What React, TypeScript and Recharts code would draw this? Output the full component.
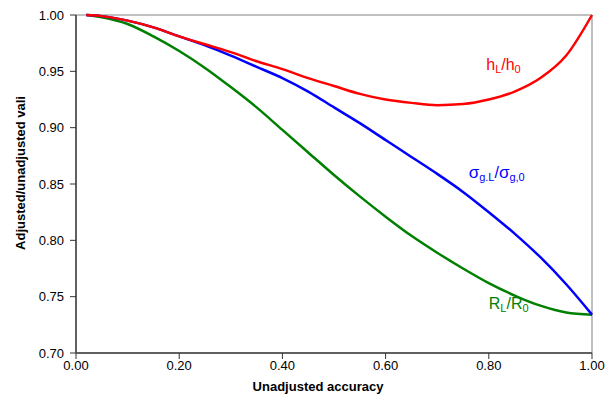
import React from 'react';
import {
  LineChart,
  Line,
  XAxis,
  YAxis,
  ReferenceLine,
  ReferenceDot,
} from 'recharts';

const xValues = [0.02, 0.05, 0.1, 0.15, 0.2, 0.25, 0.3, 0.35, 0.4, 0.45, 0.5, 0.55, 0.6, 0.65, 0.7, 0.75, 0.8, 0.85, 0.9, 0.95, 1.0];
const hRatio = [1.0, 0.999, 0.995, 0.989, 0.981, 0.974, 0.967, 0.959, 0.952, 0.944, 0.937, 0.93, 0.925, 0.922, 0.92, 0.921, 0.925, 0.932, 0.944, 0.964, 1.0];
const sigmaRatio = [1.0, 0.999, 0.995, 0.989, 0.981, 0.973, 0.964, 0.954, 0.944, 0.932, 0.918, 0.904, 0.889, 0.874, 0.859, 0.843, 0.825, 0.806, 0.785, 0.761, 0.734];
const rRatio = [1.0, 0.998, 0.992, 0.981, 0.968, 0.953, 0.936, 0.918, 0.898, 0.878, 0.858, 0.839, 0.821, 0.804, 0.789, 0.775, 0.762, 0.751, 0.742, 0.736, 0.734];

const xTicks = [0, 0.2, 0.4, 0.6, 0.8, 1.0];
const yTicks = [0.7, 0.75, 0.8, 0.85, 0.9, 0.95, 1.0];

const data = xValues.map((x, i) => ({
  x,
  h: hRatio[i],
  sigma: sigmaRatio[i],
  r: rRatio[i],
}));

const font = '"Liberation Sans", Arial, sans-serif';
const RED = '#ff0000';
const BLUE = '#0000ff';
const GREEN = '#008000';

function seriesLabel(main1: string, sub1: string, main2: string, sub2: string, color: string, greek: boolean) {
  return (props: any) => {
    const vb = props.viewBox || {};
    const x = vb.x ?? 0;
    const y = vb.y ?? 0;
    return (
      <text x={x} y={y} fill={color} fontFamily={font} fontSize={16}>
        <tspan fontSize={greek ? 17 : 16}>{main1}</tspan>
        <tspan fontSize={11} dy={3}>{sub1}</tspan>
        <tspan fontSize={16} dy={-3}>/</tspan>
        <tspan fontSize={greek ? 17 : 16}>{main2}</tspan>
        <tspan fontSize={11} dy={3}>{sub2}</tspan>
      </text>
    );
  };
}

export default function App() {
  return (
    <div style={{ position: 'absolute', left: 0, top: 0, background: '#fff' }}>
      <LineChart width={613} height={404} data={data} margin={{ top: 15, right: 21, bottom: 0, left: 0 }}>
        <XAxis
          dataKey="x"
          type="number"
          domain={[0, 1]}
          ticks={xTicks}
          tickFormatter={(v: number) => v.toFixed(2)}
          height={51}
          axisLine={{ stroke: '#606060', strokeWidth: 2 }}
          tickLine={{ stroke: '#333' }}
          tickSize={6}
          tickMargin={2}
          tick={{ fill: '#000', fontSize: 13, fontFamily: font }}
          label={() => (
            <text x={318} y={391} textAnchor="middle" fontFamily={font} fontSize={13} fontWeight="bold" fill="#000">
              Unadjusted accuracy
            </text>
          )}
        />
        <YAxis
          type="number"
          domain={[0.7, 1]}
          ticks={yTicks}
          tickFormatter={(v: number) => v.toFixed(2)}
          width={76}
          axisLine={{ stroke: '#606060', strokeWidth: 2 }}
          tickLine={{ stroke: '#333' }}
          tickSize={6}
          tickMargin={6}
          tick={{ fill: '#000', fontSize: 13, fontFamily: font }}
          label={() => (
            <text
              x={25}
              y={173}
              transform="rotate(-90 25 173)"
              textAnchor="middle"
              fontFamily={font}
              fontSize={13}
              fontWeight="bold"
              fill="#000"
            >
              Adjusted/unadjusted vali
            </text>
          )}
        />
        <ReferenceLine y={1} stroke="#c0c0c0" strokeWidth={2} />
        <ReferenceLine x={1} stroke="#c0c0c0" strokeWidth={2} />
        <Line type="monotone" dataKey="r" stroke={GREEN} strokeWidth={2.5} dot={false} isAnimationActive={false} />
        <Line type="monotone" dataKey="sigma" stroke={BLUE} strokeWidth={2.5} dot={false} isAnimationActive={false} />
        <Line type="monotone" dataKey="h" stroke={RED} strokeWidth={2.5} dot={false} isAnimationActive={false} />
        <ReferenceDot x={0.795} y={0.951} r={0} fill="none" stroke="none" label={seriesLabel('h', 'L', 'h', '0', RED, false)} />
        <ReferenceDot x={0.761} y={0.855} r={0} fill="none" stroke="none" label={seriesLabel('σ', 'g.L', 'σ', 'g,0', BLUE, true)} />
        <ReferenceDot x={0.8} y={0.739} r={0} fill="none" stroke="none" label={seriesLabel('R', 'L', 'R', '0', GREEN, false)} />
      </LineChart>
    </div>
  );
}
